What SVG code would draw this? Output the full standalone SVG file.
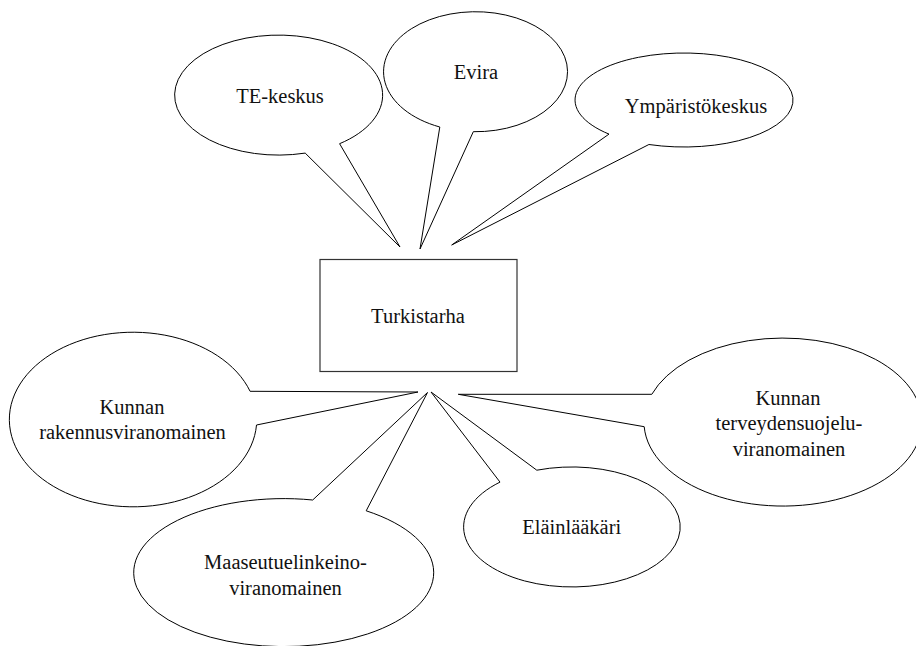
<svg xmlns="http://www.w3.org/2000/svg" width="916" height="646" viewBox="0 0 916 646">
<style>
.bub{fill:#fff;stroke:#000;stroke-width:1;stroke-linejoin:miter}
.box{fill:#fff;stroke:#333;stroke-width:1.2}
.t{font-family:'Liberation Serif','DejaVu Serif',serif;font-size:20.5px;fill:#111;text-anchor:middle}
</style>
<rect width="916" height="646" fill="#fff"/>
<g id="turkistarha">
<rect class="box" x="320" y="259.5" width="197" height="112"/>
<text class="t" x="418" y="323" font-family="Liberation Serif, serif">Turkistarha</text>
</g>
<g id="te-keskus">
<path class="bub" d="M305.2,153.1 A104,60 0 1 1 339.6,143.7 L400,247 Z"/>
<text class="t" x="280" y="103">TE-keskus</text>
</g>
<g id="evira">
<path class="bub" d="M439.8,127 A92,60 0 1 1 473.3,131.7 L420,249 Z"/>
<text class="t" x="476" y="79">Evira</text>
</g>
<g id="ymparistokeskus">
<path class="bub" d="M609,134.1 A109,47 0 1 1 648.9,144.5 L451.7,245 Z"/>
<text class="t" x="696" y="112.5">Ympäristökeskus</text>
</g>
<g id="kunnan-rakennus">
<path class="bub" d="M256.5,425 A123.7,87.3 0 1 1 250.1,391.3 L418,392 Z"/>
<text class="t" x="132" y="413.5">Kunnan</text>
<text class="t" x="132.5" y="438.5">rakennusviranomainen</text>
</g>
<g id="maaseutu">
<path class="bub" d="M366.2,510.8 A150,74 0 1 1 312.7,500 L427.5,392.5 Z"/>
<text class="t" x="285.5" y="568.5">Maaseutuelinkeino-</text>
<text class="t" x="285.5" y="595">viranomainen</text>
</g>
<g id="elainlaakari">
<path class="bub" d="M536.8,470.2 A108.3,60 0 1 1 500,482.1 L431,392 Z"/>
<text class="t" x="571.7" y="534">Eläinlääkäri</text>
</g>
<g id="kunnan-terveys">
<path class="bub" d="M651.8,394.3 A139,84 0 1 1 644.2,426.7 L458.3,394.3 Z"/>
<text class="t" x="788" y="405">Kunnan</text>
<text class="t" x="789" y="430">terveydensuojelu-</text>
<text class="t" x="789" y="456">viranomainen</text>
</g>
</svg>
